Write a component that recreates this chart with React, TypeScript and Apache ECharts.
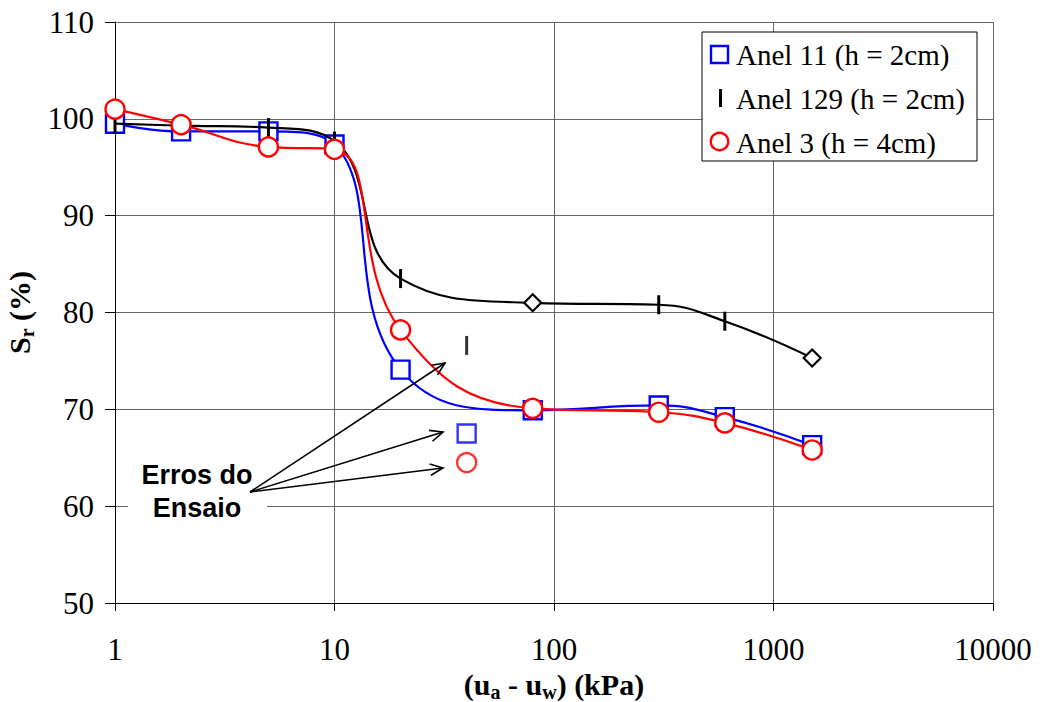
import React, { useEffect, useRef } from "react";
import * as echarts from "echarts";

// Suction steps (kPa) shared by the three rings
const pressures = [1, 2, 5, 10, 20, 80, 300, 600, 1500];
// Degree of saturation Sr (%) per ring
const anel11 = [99.5, 98.7, 98.7, 97.35, 74.1, 69.9, 70.4, 69.2, 66.3];
const anel129 = [99.5, 99.3, 99.1, 97.7, 83.5, 81.0, 80.8, 79.1, 75.3];
const anel3 = [101.0, 99.4, 97.1, 96.85, 78.2, 70.1, 69.7, 68.6, 65.8];
// Anel 129 readings drawn with a diamond marker
const diamondPressures = [80, 1500];

// Readings flagged as test errors (not part of the curves)
const errorPressure = 40;
const errAnel11 = 67.5;
const errAnel129 = 76.6;
const errAnel3 = 64.5;

const xTicks = [1, 10, 100, 1000, 10000];
const yMin = 50;
const yMax = 110;
const yStep = 10;

const seriesNames = ["Anel 11 (h = 2cm)", "Anel 129 (h = 2cm)", "Anel 3 (h = 4cm)"];
const annotation = "Erros do\nEnsaio";

const BLUE = "#0000ff";
const RED = "#ff0000";
const BLACK = "#000000";
const SERIF = "'Liberation Serif', 'Times New Roman', serif";
const SANS = "'Liberation Sans', Arial, sans-serif";

const pairs = (ys: number[]) => pressures.map((x, i) => [x, ys[i]]);

function arrow(x1: number, y1: number, x2: number, y2: number) {
  const a = Math.atan2(y2 - y1, x2 - x1);
  const L = 14;
  const w = 0.42;
  return [
    {
      type: "line",
      z: 110,
      shape: { x1, y1, x2, y2 },
      style: { stroke: BLACK, lineWidth: 1.6 },
    },
    {
      type: "polyline",
      z: 110,
      shape: {
        points: [
          [x2 - L * Math.cos(a - w), y2 - L * Math.sin(a - w)],
          [x2, y2],
          [x2 - L * Math.cos(a + w), y2 - L * Math.sin(a + w)],
        ],
      },
      style: { stroke: BLACK, fill: null, lineWidth: 1.6 },
    },
  ];
}

const titleRich = {
  p: { fontSize: 30, fontWeight: "bold", fontFamily: SERIF, color: BLACK },
  s: { fontSize: 20, fontWeight: "bold", fontFamily: SERIF, color: BLACK, padding: [15, 0, 0, 0] },
};

export default function App() {
  const ref = useRef<HTMLDivElement>(null);

  useEffect(() => {
    const chart = echarts.init(ref.current!, null, { renderer: "svg" });

    const anel129Data = pressures.map((x, i) =>
      diamondPressures.includes(x)
        ? {
            value: [x, anel129[i]],
            symbol: "diamond",
            symbolSize: 17,
            itemStyle: { color: "#fff", borderColor: BLACK, borderWidth: 2.2 },
          }
        : { value: [x, anel129[i]] }
    );

    const option = {
      animation: false,
      backgroundColor: "#fff",
      grid: {
        left: 115,
        right: 50,
        top: 22,
        bottom: 99,
        containLabel: false,
        outerBoundsMode: "none",
      },
      xAxis: {
        type: "log",
        logBase: 10,
        min: xTicks[0],
        max: xTicks[xTicks.length - 1],
        name: "{p|(u}{s|a}{p| - u}{s|w}{p|) (kPa)}",
        nameLocation: "middle",
        nameGap: 62,
        nameTextStyle: { rich: titleRich },
        axisLine: { show: true, onZero: false, lineStyle: { color: BLACK, width: 1 } },
        axisTick: { show: true, inside: false, length: 8, lineStyle: { color: BLACK } },
        axisLabel: {
          fontSize: 31,
          fontFamily: SERIF,
          color: BLACK,
          margin: 31,
          formatter: (v: number) => String(Math.round(v)),
        },
        splitLine: { show: true, lineStyle: { color: "#666", width: 1 } },
        minorTick: { show: false },
      },
      yAxis: {
        type: "value",
        min: yMin,
        max: yMax,
        interval: yStep,
        name: "{p|S}{s|r}{p| (%)}",
        nameLocation: "middle",
        nameRotate: 90,
        nameGap: 72,
        nameTextStyle: { rich: titleRich },
        axisLine: { show: true, onZero: false, lineStyle: { color: BLACK, width: 1 } },
        axisTick: { show: true, inside: false, length: 10, lineStyle: { color: BLACK } },
        axisLabel: { fontSize: 31, fontFamily: SERIF, color: BLACK, margin: 21 },
        splitLine: { show: true, lineStyle: { color: "#666", width: 1 } },
      },
      series: [
        {
          name: seriesNames[0],
          type: "line",
          smooth: 0.45,
          data: pairs(anel11),
          symbol: "rect",
          symbolSize: 18,
          lineStyle: { color: BLUE, width: 2.2 },
          itemStyle: { color: "#fff", borderColor: BLUE, borderWidth: 2.4 },
          z: 3,
        },
        {
          name: seriesNames[1],
          type: "line",
          smooth: 0.45,
          data: anel129Data,
          symbol: "rect",
          symbolSize: [3, 19],
          lineStyle: { color: BLACK, width: 2.2 },
          itemStyle: { color: BLACK },
          z: 4,
        },
        {
          name: seriesNames[2],
          type: "line",
          smooth: 0.45,
          data: pairs(anel3),
          symbol: "circle",
          symbolSize: 19,
          lineStyle: { color: RED, width: 2.2 },
          itemStyle: { color: "#fff", borderColor: RED, borderWidth: 2.4 },
          z: 5,
        },
        {
          name: "err11",
          type: "scatter",
          data: [[errorPressure, errAnel11]],
          symbol: "rect",
          symbolSize: 18,
          itemStyle: { color: "#fff", borderColor: BLUE, borderWidth: 2.4 },
          z: 3,
        },
        {
          name: "err129",
          type: "scatter",
          data: [[errorPressure, errAnel129]],
          symbol: "rect",
          symbolSize: [3, 19],
          itemStyle: { color: BLACK },
          z: 4,
        },
        {
          name: "err3",
          type: "scatter",
          data: [[errorPressure, errAnel3]],
          symbol: "circle",
          symbolSize: 19,
          itemStyle: { color: "#fff", borderColor: RED, borderWidth: 2.4 },
          z: 5,
        },
      ],
      graphic: [
        // legend box
        {
          type: "rect",
          z: 100,
          shape: { x: 702, y: 32, width: 275, height: 129 },
          style: { fill: "#fff", stroke: BLACK, lineWidth: 1 },
        },
        {
          type: "rect",
          z: 101,
          shape: { x: 711, y: 46, width: 17, height: 17 },
          style: { fill: "#fff", stroke: BLUE, lineWidth: 2.4 },
        },
        {
          type: "rect",
          z: 101,
          shape: { x: 719, y: 89, width: 3, height: 18 },
          style: { fill: BLACK },
        },
        {
          type: "circle",
          z: 101,
          shape: { cx: 719.5, cy: 141.5, r: 8.7 },
          style: { fill: "#fff", stroke: RED, lineWidth: 2.4 },
        },
        ...seriesNames.map((n, i) => ({
          type: "text",
          z: 101,
          x: 736,
          y: 55 + i * 44,
          style: {
            text: n,
            fill: BLACK,
            font: `29px ${SERIF}`,
            verticalAlign: "middle",
            align: "left",
          },
        })),
        // annotation
        {
          type: "rect",
          z: 100,
          shape: { x: 128, y: 458, width: 139, height: 67 },
          style: { fill: "#fff" },
        },
        {
          type: "text",
          z: 101,
          x: 197,
          y: 491,
          style: {
            text: annotation,
            fill: BLACK,
            font: `bold 27px ${SANS}`,
            align: "center",
            verticalAlign: "middle",
            lineHeight: 33,
          },
        },
        ...arrow(250, 492, 445, 363),
        ...arrow(250, 492, 443, 432),
        ...arrow(250, 492, 443, 468),
      ],
    };

    chart.setOption(option as any);
    return () => chart.dispose();
  }, []);

  return (
    <div
      ref={ref}
      style={{ position: "absolute", left: 0, top: 0, width: 1043, height: 702, background: "#fff" }}
    />
  );
}
